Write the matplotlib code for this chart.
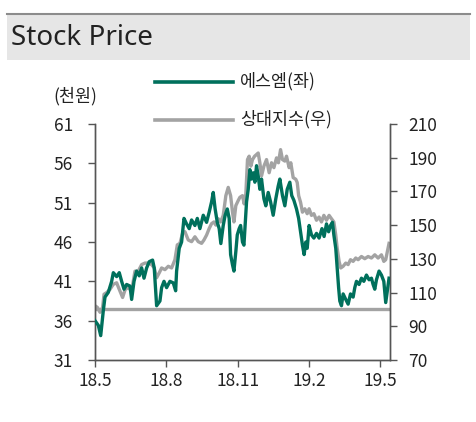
import matplotlib.pyplot as plt
from matplotlib.patches import Rectangle
from matplotlib.lines import Line2D

plt.rcParams['font.family'] = ['Noto Sans CJK KR', 'DejaVu Sans']

# months since 2018-05
sm_t = [0.00, 0.14, 0.24, 0.35, 0.42, 0.56, 0.70, 0.77, 0.91, 1.02, 1.12, 1.22, 1.33, 1.47, 1.54,
        1.64, 1.75, 1.86, 1.96, 2.06, 2.17, 2.28, 2.42, 2.49, 2.59, 2.73, 2.80, 2.90, 3.01, 3.15,
        3.29, 3.39, 3.43, 3.54, 3.64, 3.74, 3.85, 3.96, 4.06, 4.20, 4.30, 4.41, 4.55, 4.69, 4.80,
        4.90, 4.97, 5.05, 5.14, 5.22, 5.29, 5.39, 5.47, 5.56, 5.64, 5.70, 5.78, 5.84, 5.92, 5.98,
        6.06, 6.12, 6.20, 6.26, 6.31, 6.37, 6.44, 6.51, 6.58, 6.65, 6.72, 6.79, 6.86, 6.93, 7.00,
        7.10, 7.18, 7.28, 7.38, 7.49, 7.60, 7.70, 7.77, 7.88, 7.98, 8.08, 8.19, 8.27, 8.36, 8.47,
        8.56, 8.64, 8.72, 8.79, 8.86, 8.92, 9.00, 9.10, 9.20, 9.31, 9.42, 9.54, 9.63, 9.73, 9.82,
        9.90, 9.98, 10.04, 10.12, 10.18, 10.24, 10.29, 10.36, 10.43, 10.54, 10.64, 10.74, 10.85,
        10.92, 10.99, 11.10, 11.20, 11.30, 11.41, 11.52, 11.62, 11.69, 11.76, 11.83, 11.94, 12.04,
        12.14, 12.22, 12.29, 12.36]
sm_price = [36.0, 35.4, 34.1, 37.3, 39.0, 39.6, 41.0, 42.1, 41.6, 42.1, 41.0, 40.0, 40.6, 40.4, 38.7,
            41.0, 42.3, 41.7, 42.7, 41.4, 42.7, 43.5, 43.7, 42.7, 37.9, 38.5, 40.2, 41.0, 40.2, 41.0,
            40.8, 39.8, 42.3, 45.2, 46.0, 49.0, 48.3, 47.7, 48.8, 48.1, 49.0, 47.7, 49.4, 48.5, 49.8,
            51.1, 52.3, 50.2, 48.5, 47.7, 45.8, 48.1, 49.4, 50.2, 49.0, 44.4, 43.1, 42.3, 44.8, 46.9,
            47.7, 48.1, 46.0, 45.6, 48.1, 51.1, 52.7, 55.2, 54.0, 54.8, 53.6, 55.7, 54.4, 52.7, 54.0,
            51.5, 50.6, 52.3, 51.1, 49.4, 51.5, 53.1, 54.0, 51.9, 50.6, 52.7, 53.6, 51.9, 51.3, 50.2,
            49.0, 47.3, 45.6, 44.4, 46.0, 45.2, 48.1, 46.9, 46.5, 47.1, 46.5, 47.7, 46.7, 48.3, 47.3,
            48.1, 48.5, 46.9, 45.2, 42.7, 40.2, 38.5, 37.9, 39.4, 38.7, 38.1, 39.4, 39.0,
            40.2, 41.0, 40.6, 41.4, 41.0, 41.8, 41.2, 41.4, 40.6, 40.0, 41.2, 42.3, 41.8,
            41.0, 38.3, 39.8, 41.4]

idx_t = [0.00, 0.10, 0.21, 0.32, 0.38, 0.49, 0.63, 0.77, 0.91, 1.02, 1.16, 1.27, 1.40, 1.54, 1.68,
         1.82, 1.96, 2.10, 2.24, 2.38, 2.49, 2.59, 2.70, 2.80, 2.94, 3.08, 3.22, 3.36, 3.46, 3.57,
         3.68, 3.78, 3.92, 4.06, 4.20, 4.34, 4.48, 4.58, 4.69, 4.80, 4.90, 5.00, 5.08, 5.18, 5.28,
         5.39, 5.50, 5.60, 5.70, 5.78, 5.84, 5.92, 6.02, 6.09, 6.20, 6.27, 6.34, 6.41, 6.48, 6.55,
         6.62, 6.71, 6.79, 6.86, 6.93, 7.00, 7.10, 7.21, 7.32, 7.42, 7.52, 7.63, 7.71, 7.80, 7.88,
         7.98, 8.05, 8.16, 8.23, 8.33, 8.44, 8.50, 8.56, 8.64, 8.72, 8.82, 8.92, 9.00, 9.10, 9.20,
         9.31, 9.42, 9.52, 9.62, 9.73, 9.84, 9.94, 10.04, 10.12, 10.18, 10.26, 10.33, 10.43, 10.54,
         10.64, 10.74, 10.85, 10.96, 11.06, 11.20, 11.34, 11.48, 11.62, 11.76, 11.90, 12.04, 12.14,
         12.22, 12.29, 12.36]
idx_val = [102.2, 101.2, 98.3, 101.2, 109.0, 110.0, 111.9, 114.9, 115.8, 111.9, 107.1, 111.9, 112.9, 111.0, 122.7,
           122.7, 126.6, 127.5, 127.5, 126.6, 124.6, 118.8, 121.7, 124.6, 123.6, 125.6, 124.6, 129.5, 138.3, 139.2,
           145.1, 146.1, 141.2, 140.2, 143.1, 140.2, 139.2, 141.2, 144.1, 148.0, 150.9, 151.9, 150.0, 153.8, 151.9,
           155.8, 167.5, 172.4, 167.5, 157.7, 151.9, 161.6, 164.6, 166.5, 167.5, 162.6, 168.5, 188.9, 190.9, 185.0,
           188.9, 190.9, 191.9, 192.8, 187.0, 179.2, 185.0, 188.9, 181.1, 187.0, 184.1, 189.9, 187.0, 194.8, 188.9,
           188.0, 190.9, 184.1, 187.0, 178.2, 177.2, 175.3, 167.5, 163.6, 157.7, 159.7, 156.8, 159.7, 155.8, 156.8,
           152.9, 154.8, 151.9, 155.8, 152.9, 155.8, 153.8, 151.9, 144.1, 136.3, 128.5, 124.6, 125.6, 127.5,
           126.6, 129.5, 128.5, 130.5, 129.5, 131.4, 130.1, 131.4, 130.5, 132.4, 130.5, 132.4, 128.5,
           129.5, 134.4, 139.2]
base_level = 100

tick_months = [0, 3, 6, 9, 12]
tick_labels = ['18.5', '18.8', '18.11', '19.2', '19.5']

green = '#00705C'
grey = '#A3A3A3'
dark = '#555555'

fig = plt.figure(figsize=(4.76, 4.22), dpi=100)

# title band
fig.patches.append(Rectangle((7 / 476, 1 - 60 / 422), 463 / 476, 46 / 422,
                             transform=fig.transFigure, facecolor='#E6E6E6', edgecolor='none'))
fig.lines.append(Line2D([7 / 476, 470 / 476], [1 - 14 / 422] * 2, transform=fig.transFigure,
                        color='#8C8C8C', lw=1.5))
fig.text(11 / 476, 1 - 38 / 422, 'Stock Price', fontsize=20, va='center', ha='left',
         family=['Noto Sans', 'DejaVu Sans'], weight='medium', color='#222222')

ax = fig.add_axes([95 / 476, 1 - 360 / 422, 295 / 476, 236 / 422])
ax2 = ax.twinx()

ax.plot(sm_t, sm_price, color=green, lw=2.4, zorder=3)
ax2.plot(idx_t, idx_val, color=grey, lw=2.4, zorder=2)
ax2.axhline(base_level, color=grey, lw=2.4)
ax.set_zorder(ax2.get_zorder() + 1)
ax.patch.set_visible(False)

ax.set_xlim(0, 12.4)
ax.set_ylim(31, 61)
ax.set_yticks([31, 36, 41, 46, 51, 56, 61])
ax2.set_ylim(70, 210)
ax2.set_yticks(range(70, 211, 20))
ax.set_xticks(tick_months)
ax.set_xticklabels(tick_labels)

for a in (ax, ax2):
    a.spines['top'].set_visible(False)
    for s in a.spines.values():
        s.set_color(dark)
        s.set_linewidth(1.0)
    a.tick_params(direction='out', length=5, width=1, color=dark, labelsize=12.5, labelcolor='#222222')
ax.tick_params(axis='y', pad=11)
ax2.tick_params(axis='y', pad=8)
ax.tick_params(axis='x', pad=4)

fig.text(75 / 476, 1 - 96 / 422, '(천원)', fontsize=12.5, ha='center', va='center', color='#222222')

# legend
fig.lines.append(Line2D([155 / 476, 233 / 476], [1 - 82 / 422] * 2, transform=fig.transFigure,
                        color=green, lw=2.6))
fig.lines.append(Line2D([155 / 476, 233 / 476], [1 - 120 / 422] * 2, transform=fig.transFigure,
                        color=grey, lw=2.6))
fig.text(240 / 476, 1 - 81 / 422, '에스엠(좌)', fontsize=12.5, va='center', color='#222222')
fig.text(240 / 476, 1 - 119 / 422, '상대지수(우)', fontsize=12.5, va='center', color='#222222')

fig.savefig('out.png', dpi=100)
